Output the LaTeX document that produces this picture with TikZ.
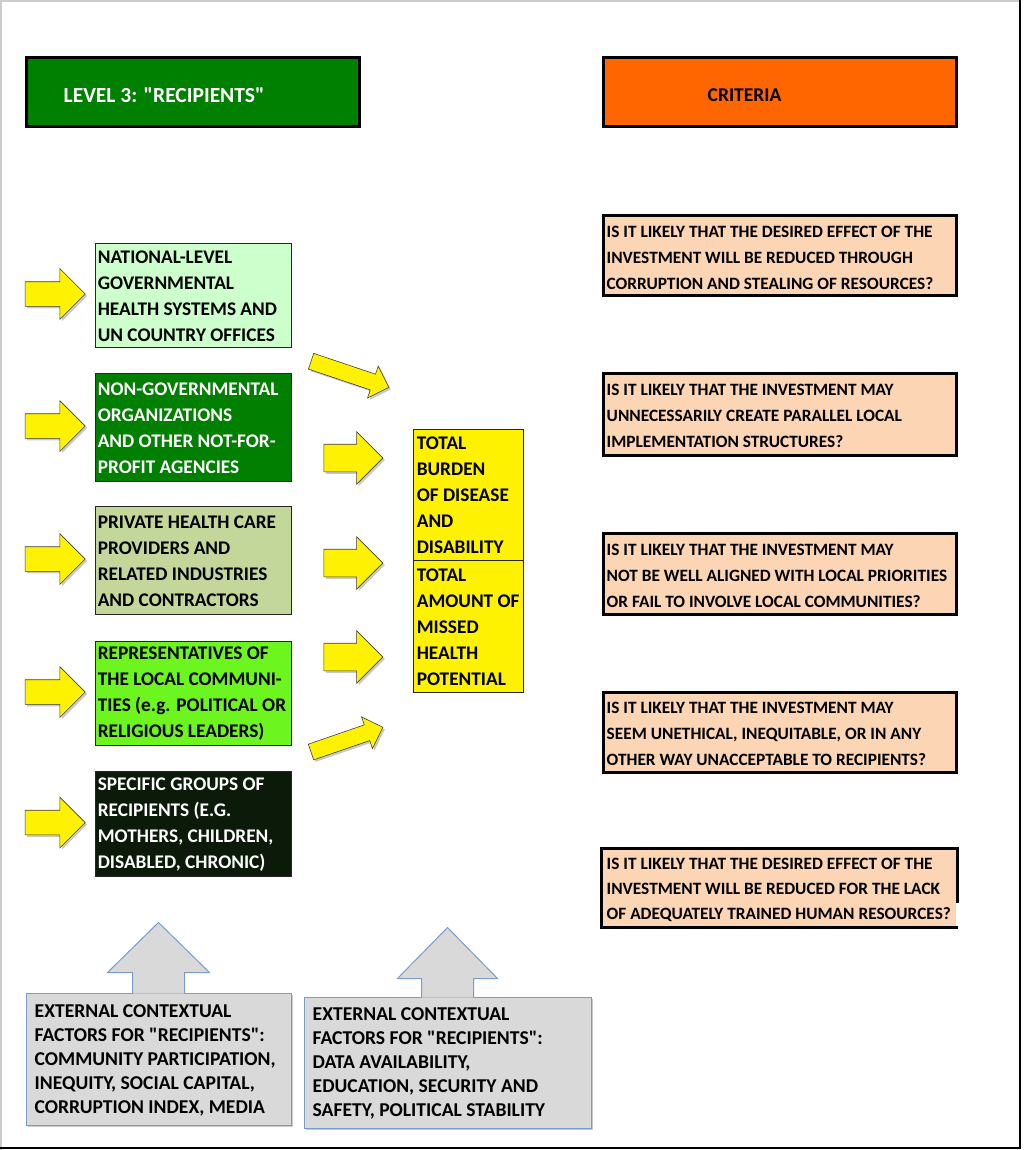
\documentclass[tikz,border=0pt]{standalone}
\usepackage{fontspec}
\setmainfont{Carlito}
\usetikzlibrary{shapes.arrows,shadows}

\definecolor{hdrgreen}{HTML}{008000}
\definecolor{hdrorange}{HTML}{FF6600}
\definecolor{natgreen}{HTML}{CCFFCC}
\definecolor{ngogreen}{HTML}{007F00}
\definecolor{privolive}{HTML}{C4D79B}
\definecolor{commgreen}{HTML}{6CF51E}
\definecolor{grpdark}{HTML}{0C1A0A}
\definecolor{critpeach}{HTML}{FCD5B4}
\definecolor{ctxgray}{HTML}{D9D9D9}
\definecolor{ctxblue}{HTML}{7A9CCB}
\definecolor{arrowline}{HTML}{404040}

\begin{document}
\begin{tikzpicture}[x=1pt, y=-1pt,
  txt/.style={anchor=west, align=left, inner sep=0pt, yshift=-1pt, font=\bfseries\fontsize{19.3}{26}\selectfont},
  hdrtxt/.style={txt, yshift=-2pt, font=\bfseries\fontsize{19.5}{26}\selectfont},
  crittxt/.style={txt, xshift=1pt, yshift=-1pt, font=\bfseries\fontsize{17.3}{26}\selectfont},
  ctxtxt/.style={txt, font=\bfseries\fontsize{19.6}{24}\selectfont},
  hdrbox/.style={draw=black, line width=3pt, minimum height=69pt},
  leftbox/.style={draw=black!85, line width=0.8pt, minimum width=196pt},
  centbox/.style={draw=black!85, fill=yellow, line width=0.8pt, minimum width=110pt},
  critbox/.style={fill=critpeach, draw=black, line width=3pt, minimum width=353pt},
  ctxbox/.style={fill=ctxgray, draw=ctxblue, line width=1pt,
    drop shadow={shadow xshift=2pt, shadow yshift=-2pt, opacity=.35, fill=black!60}},
  yarrow/.style={single arrow, fill=yellow, draw=arrowline, line width=0.6pt,
    inner xsep=0pt, minimum width=1pt,
    drop shadow={shadow xshift=2pt, shadow yshift=-2pt, opacity=.35, fill=black!60}},
  bigarrow/.style={yarrow, minimum height=60pt, inner ysep=12pt, single arrow head extend=13pt},
  midarrow/.style={yarrow, minimum height=59pt, inner ysep=13.5pt, single arrow head extend=12.5pt},
  diagarrow/.style={yarrow, inner ysep=8pt, single arrow head extend=8.5pt}
]
\fill[white] (0,0) rectangle (1024,1150);
\useasboundingbox (0,0) rectangle (1024,1150);
\draw[black!20, line width=2pt] (1,1150) -- (1,1) -- (1020,1);
\draw[black, line width=2pt] (1020,0) -- (1020,1148) -- (0,1148);

% headers
\node[hdrbox, fill=hdrgreen, minimum width=333pt] (level) at (192.5,92.5) {};
\node[hdrtxt, text=white, font=\bfseries\fontsize{21.5}{26}\selectfont] (level-t) at ([xshift=39pt]level.west) {LEVEL 3: \textquotedbl RECIPIENTS\textquotedbl};
\node[hdrbox, fill=hdrorange, minimum width=353pt] (crit) at (779.5,92.5) {};
\node[hdrtxt] (crit-t) at ([xshift=106pt]crit.west) {CRITERIA};

% recipients
\node[leftbox, fill=natgreen, minimum height=104pt] (nat) at (193,295) {};
\node[txt] (nat-t) at ([xshift=3pt]nat.west) {NATIONAL-LEVEL\\GOVERNMENTAL\\HEALTH SYSTEMS AND\\UN COUNTRY OFFICES};
\node[leftbox, fill=ngogreen, minimum height=108pt] (ngo) at (193,427) {};
\node[txt, text=white] (ngo-t) at ([xshift=3pt]ngo.west) {NON-GOVERNMENTAL\\ORGANIZATIONS\\AND OTHER NOT-FOR-\\PROFIT AGENCIES};
\node[leftbox, fill=privolive, minimum height=108pt] (priv) at (193,560) {};
\node[txt] (priv-t) at ([xshift=3pt]priv.west) {PRIVATE HEALTH CARE\\PROVIDERS AND\\RELATED INDUSTRIES\\AND CONTRACTORS};
\node[leftbox, fill=commgreen, minimum height=104pt] (comm) at (193,693) {};
\node[txt] (comm-t) at ([xshift=3pt]comm.west) {REPRESENTATIVES OF\\THE LOCAL COMMUNI-\\TIES (e.g. POLITICAL OR\\RELIGIOUS LEADERS)};
\node[leftbox, fill=grpdark, minimum height=105pt] (grp) at (193,823.5) {};
\node[txt, text=white] (grp-t) at ([xshift=3pt]grp.west) {SPECIFIC GROUPS OF\\RECIPIENTS (E.G.\\MOTHERS, CHILDREN,\\DISABLED, CHRONIC)};

\foreach \b in {nat,ngo,priv,comm,grp}
  \node[bigarrow, anchor=tip] (in-\b) at ([xshift=-9pt,yshift=1pt]\b.west) {};

% outcome
\node[centbox, minimum height=131pt] (burden) at (468,494.5) {};
\node[txt] (burden-t) at ([xshift=4pt]burden.west) {TOTAL\\BURDEN\\OF DISEASE\\AND\\DISABILITY};
\node[centbox, minimum height=132pt] (missed) at (468,626) {};
\node[txt] (missed-t) at ([xshift=4pt]missed.west) {TOTAL\\AMOUNT OF\\MISSED\\HEALTH\\POTENTIAL};

\node[diagarrow, minimum height=82pt, rotate=-18.6] (d1) at (346,373) {};
\node[midarrow] (m1) at (346.5,458) {};
\node[midarrow] (m2) at (346.5,563) {};
\node[midarrow] (m3) at (346.5,657) {};
\node[diagarrow, minimum height=76pt, rotate=19] (d2) at (343,741) {};

% criteria
\node[critbox, minimum height=79pt] (c1) at (779.5,255.5) {};
\node[crittxt] (c1-t) at ([xshift=4pt]c1.west) {IS IT LIKELY THAT THE DESIRED EFFECT OF THE\\INVESTMENT WILL BE REDUCED THROUGH\\CORRUPTION AND STEALING OF RESOURCES?};
\node[critbox, minimum height=82pt] (c2) at (779.5,414) {};
\node[crittxt] (c2-t) at ([xshift=4pt]c2.west) {IS IT LIKELY THAT THE INVESTMENT MAY\\UNNECESSARILY CREATE PARALLEL LOCAL\\IMPLEMENTATION STRUCTURES?};
\node[critbox, minimum height=81pt] (c3) at (779.5,573.5) {};
\node[crittxt] (c3-t) at ([xshift=4pt]c3.west) {IS IT LIKELY THAT THE INVESTMENT MAY\\NOT BE WELL ALIGNED WITH LOCAL PRIORITIES\\OR FAIL TO INVOLVE LOCAL COMMUNITIES?};
\node[critbox, minimum height=80pt] (c4) at (779.5,732) {};
\node[crittxt] (c4-t) at ([xshift=4pt]c4.west) {IS IT LIKELY THAT THE INVESTMENT MAY\\SEEM UNETHICAL, INEQUITABLE, OR IN ANY\\OTHER WAY UNACCEPTABLE TO RECIPIENTS?};
\node[critbox, draw=none, minimum height=76pt] (c5) at (779.5,888) {};
\draw[black, line width=3pt] ([yshift=-15pt]c5.east) -- (c5.north east) -- (c5.north west) -- (c5.south west) -- (c5.south east);
\node[crittxt, font=\bfseries\fontsize{17.3}{25}\selectfont] (c5-t) at ([xshift=4pt]c5.west) {IS IT LIKELY THAT THE DESIRED EFFECT OF THE\\INVESTMENT WILL BE REDUCED FOR THE LACK\\OF ADEQUATELY TRAINED HUMAN RESOURCES?};

% external factors
\node[ctxbox, minimum width=265pt, minimum height=132pt] (ctx1) at (158.5,1059) {};
\draw[ctxblue, line width=1pt, fill=ctxgray] ([xshift=-26pt,yshift=-1pt]ctx1.north) -- ++(0,-21) -- ++(-25,0) -- ++(51,-50) -- ++(51,50) -- ++(-25,0) -- ++(0,21);
\node[ctxtxt] (ctx1-t) at ([xshift=9pt]ctx1.west) {EXTERNAL CONTEXTUAL\\FACTORS FOR \textquotedbl RECIPIENTS\textquotedbl:\\COMMUNITY PARTICIPATION,\\INEQUITY, SOCIAL CAPITAL,\\CORRUPTION INDEX, MEDIA};
\node[ctxbox, minimum width=287pt, minimum height=131pt] (ctx2) at (447.5,1062.5) {};
\draw[ctxblue, line width=1pt, fill=ctxgray] ([xshift=-26pt,yshift=-1pt]ctx2.north) -- ++(0,-19) -- ++(-24,0) -- ++(50,-51) -- ++(50,51) -- ++(-24,0) -- ++(0,19);
\node[ctxtxt] (ctx2-t) at ([xshift=9pt]ctx2.west) {EXTERNAL CONTEXTUAL\\FACTORS FOR \textquotedbl RECIPIENTS\textquotedbl:\\DATA AVAILABILITY,\\EDUCATION, SECURITY AND\\SAFETY, POLITICAL STABILITY};
\end{tikzpicture}
\end{document}
